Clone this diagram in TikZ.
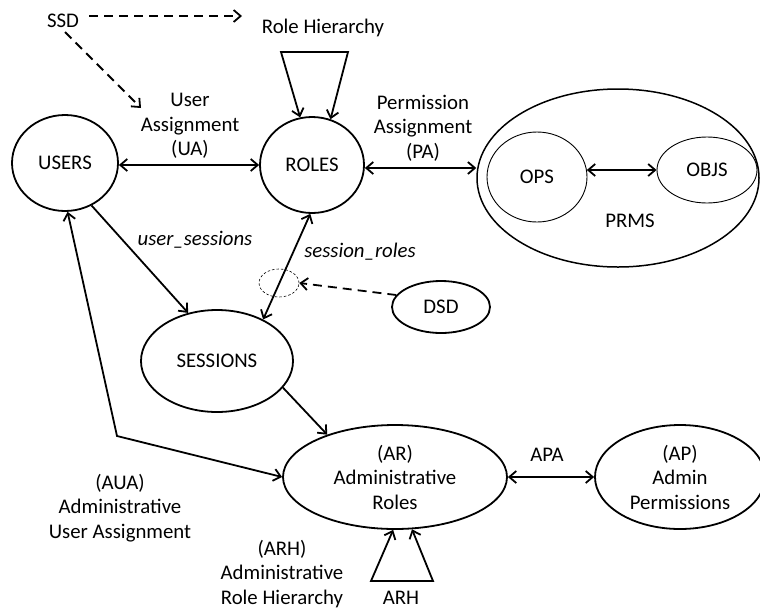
\documentclass[tikz,border=0pt]{standalone}
\usepackage{fontspec}
\setmainfont{Carlito}
\usetikzlibrary{shapes.geometric,arrows.meta}
\begin{document}
\begin{tikzpicture}[x=1pt,y=-1pt,
  every node/.style={font=\fontsize{20.8}{24.5}\selectfont, inner sep=0pt, align=center},
  ell/.style={draw, ellipse, line width=1.8pt},
  thinell/.style={draw, ellipse, line width=0.9pt},
  conn/.style={line width=1.8pt, -{Straight Barb[length=7pt,width=12pt]}},
  bicon/.style={line width=1.8pt, {Straight Barb[length=7pt,width=12pt]}-{Straight Barb[length=7pt,width=12pt]}},
  dconn/.style={conn, dash pattern=on 9pt off 6pt},
]
\useasboundingbox[fill=white] (0,0) rectangle (760,611);

% main entities
\node[ell, minimum width=106pt, minimum height=96pt] (USERS) at (65,163) {USERS};
\node[ell, minimum width=104pt, minimum height=96pt] (ROLES) at (312,165) {ROLES};
\node[ell, minimum width=152pt, minimum height=102pt] (SESSIONS) at (217,361) {SESSIONS};
\node[draw, ellipse, line width=1.5pt, minimum width=282pt, minimum height=178pt] (PRMS) at (618,178) {};
\node[thinell, minimum width=100pt, minimum height=90pt] (OPS) at (537,177) {OPS};
\node[thinell, minimum width=100pt, minimum height=66pt] (OBJS) at (707,170) {OBJS};
\node (prmslbl) at (630,221) {PRMS};
\node[ell, minimum width=98pt, minimum height=52pt] (DSD) at (441,307) {DSD};
\node[draw, ellipse, line width=0.6pt, dash pattern=on 2.5pt off 2pt,
      minimum width=40pt, minimum height=28pt] (DSDmark) at (279,283) {};
\node[ell, minimum width=224pt, minimum height=104pt] (AR) at (395,477) {(AR)\\Administrative\\Roles};
\node[ell, minimum width=170pt, minimum height=104pt] (AP) at (680,477) {(AP)\\Admin\\Permissions};

% labels
\node (SSD) at (63,21) {SSD};
\node (rhlbl) at (323,28) {Role Hierarchy};
\node (ualbl) at (190,126) {User\\Assignment\\(UA)};
\node (palbl) at (423,128) {Permission\\Assignment\\(PA)};
\node (uslbl) at (195,240) {\itshape user\_sessions};
\node (srlbl) at (360,252) {\itshape session\_roles};
\node (apalbl) at (547,455) {APA};
\node (aualbl) at (120,508) {(AUA)\\Administrative\\User Assignment};
\node (arhlbl) at (282,574) {(ARH)\\Administrative\\Role Hierarchy};
\node (arhtxt) at (401,598) {ARH};

% free ends and bends
\coordinate (ssdH) at (242,16);
\coordinate (ssdD) at (141,108);
\coordinate (rhL) at (281,52);
\coordinate (rhR) at (348,52);
\coordinate (auaBend) at (117,436);
\coordinate (arhL) at (371,581);
\coordinate (arhR) at (433,581);

% static separation of duty
\draw[dconn] (SSD.east) ++(10,-5) -- (ssdH);
\draw[dconn] (SSD.south) ++(2,4) -- (ssdD);

% role hierarchy loop
\draw[bicon, line join=miter] (ROLES.68) -- (rhR) -- (rhL) -- (ROLES.104);

% assignments
\draw[bicon] (USERS.east |- 0,165) -- (ROLES.west |- 0,165);
\draw[bicon] (ROLES.east |- 0,168) -- (PRMS.west |- 0,168);
\draw[bicon] (OPS.8) -- (OBJS.west);

% sessions
\draw[conn] (USERS.-58) -- (SESSIONS.121);
\draw[bicon] (SESSIONS.42) -- (ROLES.-92);
\draw[dconn] (DSD.165) -- (DSDmark.east);

% administrative part
\draw[conn] (SESSIONS.-22) -- (AR.148);
\draw[bicon, line join=miter] (USERS.-87) -- (auaBend) -- (AR.180);
\draw[bicon] (AR.east) -- (AP.west);
\draw[bicon, line join=miter] (AR.-92) -- (arhL) -- (arhR) -- (AR.-72);
\end{tikzpicture}
\end{document}
